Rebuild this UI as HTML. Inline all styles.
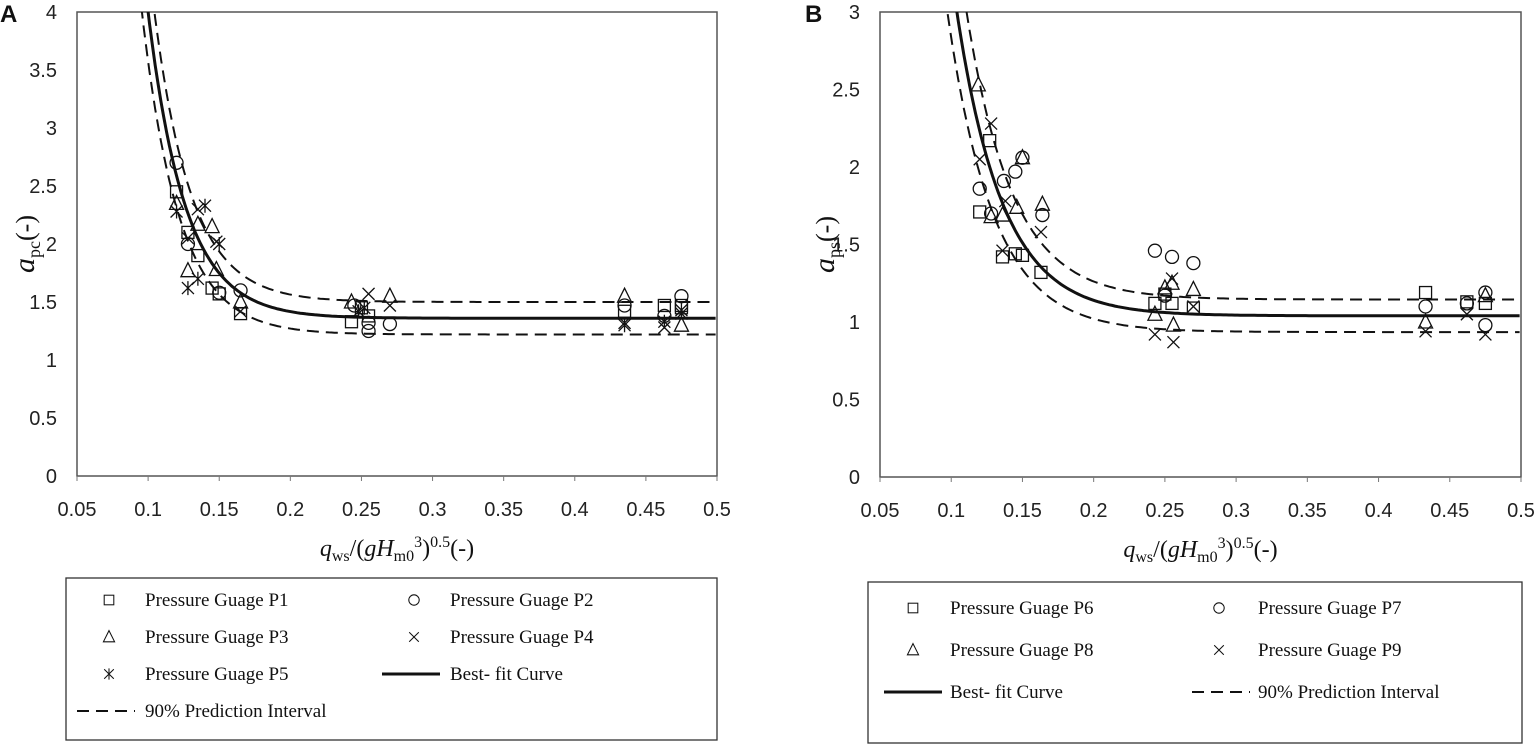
<!DOCTYPE html>
<html><head><meta charset="utf-8"><style>
body{margin:0;background:#fff;width:1537px;height:749px;overflow:hidden}
svg{position:absolute;left:0;top:0}
.tk{font-family:"Liberation Sans Narrow","Liberation Sans",sans-serif;font-size:20px;fill:#222}
.lg{font-family:"Liberation Serif",serif;font-size:19px;fill:#111}
.at{font-family:"Liberation Serif",serif;font-size:24px;fill:#111}
</style></head><body>
<svg id="chart" width="1537" height="749"></svg>
<script>
const xTicks=[0.05,0.1,0.15,0.2,0.25,0.3,0.35,0.4,0.45,0.5];
const yTicksA=[0,0.5,1,1.5,2,2.5,3,3.5,4];
const yTicksB=[0,0.5,1,1.5,2,2.5,3];
const fitA=[1.36,2.64,38.3,0.1]; // base, amp, k, x0
const upA=[1.5,2.64,38.3,0.103];
const loA=[1.22,2.64,38.3,0.097];
const fitB=[1.04,1.96,31,0.104];
const upB=[1.145,1.96,31,0.109];
const loB=[0.935,1.96,31,0.099];
const p1x=[0.12,0.128,0.135,0.145,0.15,0.165,0.243,0.25,0.255,0.435,0.463,0.475,0.475];
const p1y=[2.45,2.1,1.9,1.62,1.57,1.4,1.33,1.45,1.38,1.42,1.47,1.47,1.45];
const p2x=[0.12,0.128,0.15,0.165,0.245,0.255,0.27,0.255,0.435,0.463,0.475];
const p2y=[2.7,2.0,1.58,1.6,1.47,1.25,1.31,1.32,1.47,1.38,1.55];
const p3x=[0.12,0.128,0.135,0.145,0.148,0.165,0.243,0.27,0.435,0.475];
const p3y=[2.35,1.77,2.17,2.15,1.78,1.5,1.5,1.55,1.55,1.3];
const p4x=[0.128,0.135,0.148,0.165,0.255,0.27,0.435,0.463,0.475];
const p4y=[2.05,2.3,2.02,1.42,1.57,1.47,1.32,1.28,1.4];
const p5x=[0.12,0.128,0.135,0.14,0.15,0.248,0.252,0.435,0.463,0.475];
const p5y=[2.28,1.62,1.7,2.33,2.0,1.42,1.45,1.3,1.33,1.43];
const p6x=[0.12,0.127,0.136,0.145,0.15,0.163,0.243,0.25,0.255,0.27,0.433,0.462,0.475];
const p6y=[1.71,2.17,1.42,1.44,1.43,1.32,1.12,1.18,1.12,1.09,1.19,1.13,1.12];
const p7x=[0.12,0.128,0.137,0.145,0.15,0.164,0.243,0.255,0.27,0.25,0.433,0.462,0.475,0.475];
const p7y=[1.86,1.7,1.91,1.97,2.06,1.69,1.46,1.42,1.38,1.17,1.1,1.12,1.19,0.98];
const p8x=[0.119,0.128,0.136,0.146,0.15,0.164,0.243,0.25,0.255,0.256,0.27,0.433,0.475];
const p8y=[2.53,1.68,1.69,1.74,2.06,1.76,1.05,1.22,1.25,0.98,1.21,1.0,1.17];
const p9x=[0.12,0.128,0.136,0.138,0.163,0.243,0.255,0.256,0.27,0.433,0.462,0.475];
const p9y=[2.05,2.28,1.46,1.78,1.58,0.92,1.28,0.87,1.1,0.94,1.05,0.92];

const NS="http://www.w3.org/2000/svg";
const svg=document.getElementById('chart');
function mk(tag,at,parent){const e=document.createElementNS(NS,tag);for(const k in at)e.setAttribute(k,at[k]);(parent||svg).appendChild(e);return e;}

function marker(g,type,cx,cy){
  const st={fill:'none',stroke:'#111','stroke-width':1.3};
  let e;
  if(type==='sq'){e=mk('rect',Object.assign({x:cx-6,y:cy-6,width:12,height:12},st),g);}
  else if(type==='ci'){e=mk('circle',Object.assign({cx:cx,cy:cy,r:6.5},st),g);}
  else if(type==='tr'){e=mk('path',Object.assign({d:`M${cx} ${cy-8}L${cx+7} ${cy+6}L${cx-7} ${cy+6}Z`},st),g);}
  else if(type==='x'){e=mk('path',Object.assign({d:`M${cx-6} ${cy-6}L${cx+6} ${cy+6}M${cx+6} ${cy-6}L${cx-6} ${cy+6}`},st),g);}
  else {e=mk('path',Object.assign({d:`M${cx-6} ${cy-6}L${cx+6} ${cy+6}M${cx+6} ${cy-6}L${cx-6} ${cy+6}M${cx} ${cy-7}L${cx} ${cy+7}`},st),g);}
  return e;
}

function panel(o){
  const g=mk('g',{});
  
  
  const X=v=>o.x0+(v-0.05)/0.45*(o.x1-o.x0);
  const Y=v=>o.y0-(v/o.ymax)*(o.y0-o.y1);
  const lab=mk('text',{x:o.lx,y:22,'font-family':'Liberation Sans,sans-serif','font-size':24,'font-weight':'bold',fill:'#111'},g);
  lab.textContent=o.label;
  
  
  const fr=mk('rect',{x:o.x0,y:o.y1,width:o.x1-o.x0,height:o.y0-o.y1,fill:'none',stroke:'#555','stroke-width':1.5},g);
  
  
  xTicks.forEach(t=>{
    mk('line',{x1:X(t),x2:X(t),y1:o.y0,y2:o.y0+5,stroke:'#777'},g);
    const tx=mk('text',{x:X(t),y:o.y0+40,'text-anchor':'middle',class:'tk'},g);
    tx.textContent=String(t);
    
    
  });
  o.yt.forEach(t=>{
    const ty=mk('text',{x:o.x0-20,y:Y(t)+7,'text-anchor':'end',class:'tk'},g);
    ty.textContent=String(t);
    
    
  });
  const xt=mk('text',{x:(o.x0+o.x1)/2,y:o.y0+80,'text-anchor':'middle',class:'at'},g);
  xt.innerHTML='<tspan font-style="italic">q</tspan><tspan font-size="16" dy="5">ws</tspan><tspan dy="-5">/(</tspan><tspan font-style="italic">gH</tspan><tspan font-size="16" dy="5">m0</tspan><tspan font-size="16" dy="-14">3</tspan><tspan dy="9">)</tspan><tspan font-size="16" dy="-9">0.5</tspan><tspan dy="9">(-)</tspan>';
  
  
  const yy=(o.y0+o.y1)/2;
  const ytt=mk('text',{x:o.yx,y:yy,'text-anchor':'middle',class:'at',transform:`rotate(-90 ${o.yx} ${yy})`},g);
  ytt.innerHTML='<tspan font-style="italic" font-size="30">a</tspan><tspan font-size="18" dy="6">'+o.sub+'</tspan><tspan dy="-6" font-size="26">(-)</tspan>';
  
  
  const clip=mk('clipPath',{id:'c'+o.label},g);
  mk('rect',{x:o.x0,y:o.y1,width:o.x1-o.x0,height:o.y0-o.y1},clip);
  function curve(p,dash,w,name){
    let d='';
    for(let v=0.085;v<=0.5001;v+=0.002){
      const a=p[0]+p[1]*Math.exp(-p[2]*(v-p[3]));
      d+=(d?'L':'M')+X(v).toFixed(1)+' '+Y(Math.min(a,o.ymax+1)).toFixed(1);
    }
    const e=mk('path',{d:d,fill:'none',stroke:'#111','stroke-width':w,'stroke-dasharray':dash,'clip-path':`url(#c${o.label})`},g);
    
    
  }
  curve(o.fit,'none',3,'best-fit-curve');
  curve(o.up,'12 7',2,'upper-prediction-bound');
  curve(o.lo,'12 7',2,'lower-prediction-bound');
  o.series.forEach(s=>{
    s.xs.forEach((v,i)=>{
      const m=marker(g,s.type,X(v),Y(s.ys[i]));
      
      
    });
  });
  const lb=mk('rect',{x:o.bx0,y:o.by0,width:o.bx1-o.bx0,height:o.by1-o.by0,fill:'none',stroke:'#333','stroke-width':1.3},g);
  
  
  o.leg.forEach(L=>{
    if(L.type==='line'||L.type==='dash'){
      const ln=mk('line',{x1:L.mx-30,x2:L.mx+28,y1:L.y,y2:L.y,stroke:'#111','stroke-width':L.type==='line'?3:2,'stroke-dasharray':L.type==='dash'?'12 7':'none'},g);
      
      
    } else {
      const m=marker(g,L.type,L.mx,L.y);
      m.setAttribute('transform',`translate(${L.mx} ${L.y}) scale(0.8) translate(${-L.mx} ${-L.y})`);
      
      
    }
    const t=mk('text',{x:L.tx,y:L.y+6,class:'lg'},g);
    t.textContent=L.text;
    
    
  });
}

panel({name:'panel-a',label:'A',lx:0,x0:77,x1:717,y0:476,y1:12,ymax:4,yt:yTicksA,yx:34,sub:'pc',
  fit:fitA,up:upA,lo:loA,
  series:[{id:'p1',type:'sq',xs:p1x,ys:p1y},{id:'p2',type:'ci',xs:p2x,ys:p2y},{id:'p3',type:'tr',xs:p3x,ys:p3y},{id:'p4',type:'x',xs:p4x,ys:p4y},{id:'p5',type:'as',xs:p5x,ys:p5y}],
  bx0:66,bx1:717,by0:578,by1:740,
  leg:[{type:'sq',mx:109,tx:145,y:600,text:'Pressure Guage P1'},{type:'ci',mx:414,tx:450,y:600,text:'Pressure Guage P2'},
       {type:'tr',mx:109,tx:145,y:637,text:'Pressure Guage P3'},{type:'x',mx:414,tx:450,y:637,text:'Pressure Guage P4'},
       {type:'as',mx:109,tx:145,y:674,text:'Pressure Guage P5'},{type:'line',mx:412,tx:450,y:674,text:'Best- fit Curve'},
       {type:'dash',mx:107,tx:145,y:711,text:'90% Prediction Interval'}]});
panel({name:'panel-b',label:'B',lx:805,x0:880,x1:1521,y0:477,y1:12,ymax:3,yt:yTicksB,yx:834,sub:'ps',
  fit:fitB,up:upB,lo:loB,
  series:[{id:'p6',type:'sq',xs:p6x,ys:p6y},{id:'p7',type:'ci',xs:p7x,ys:p7y},{id:'p8',type:'tr',xs:p8x,ys:p8y},{id:'p9',type:'x',xs:p9x,ys:p9y}],
  bx0:868,bx1:1522,by0:582,by1:743,
  leg:[{type:'sq',mx:913,tx:950,y:608,text:'Pressure Guage P6'},{type:'ci',mx:1219,tx:1258,y:608,text:'Pressure Guage P7'},
       {type:'tr',mx:913,tx:950,y:650,text:'Pressure Guage P8'},{type:'x',mx:1219,tx:1258,y:650,text:'Pressure Guage P9'},
       {type:'line',mx:914,tx:950,y:692,text:'Best- fit Curve'},{type:'dash',mx:1222,tx:1258,y:692,text:'90% Prediction Interval'}]});
</script>
</body></html>
